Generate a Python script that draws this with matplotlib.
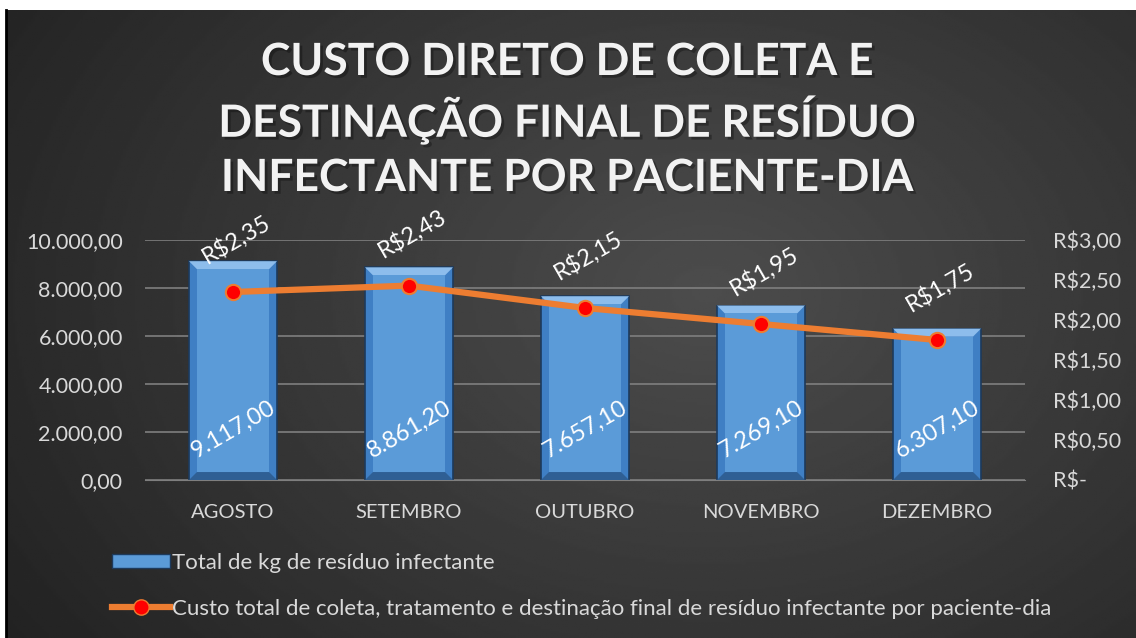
import numpy as np
import matplotlib
matplotlib.use("Agg")
import matplotlib.pyplot as plt
import matplotlib.patheffects as pe
from matplotlib.patches import Rectangle, Polygon
from matplotlib.lines import Line2D
from matplotlib.ticker import FixedLocator, FuncFormatter

meses = ["AGOSTO", "SETEMBRO", "OUTUBRO", "NOVEMBRO", "DEZEMBRO"]
kg_residuo = [9117.00, 8861.20, 7657.10, 7269.10, 6307.10]
custo_paciente_dia = [2.35, 2.43, 2.15, 1.95, 1.75]
titulo = ["CUSTO DIRETO DE COLETA E",
          "DESTINAÇÃO FINAL DE RESÍDUO",
          "INFECTANTE POR PACIENTE-DIA"]
leg_barra = "Total de kg de resíduo infectante"
leg_linha = ("Custo total de coleta, tratamento e destinação final de resíduo "
             "infectante por paciente-dia")

plt.rcParams["font.family"] = ["Lato", "DejaVu Sans"]

def br(v, dec=2):
    s = f"{v:,.{dec}f}"
    return s.replace(",", "X").replace(".", ",").replace("X", ".")

W, H = 1136, 638
fig = plt.figure(figsize=(W / 100, H / 100), dpi=100)
fig.patch.set_facecolor("white")

# dark radial background
bg = fig.add_axes([7 / W, 0, 1 - 7 / W, 1 - 10 / H])
yy, xx = np.mgrid[0:1:300j, 0:1:500j]
r = np.sqrt(((xx - 0.62) * 1.3) ** 2 + ((yy - 0.45)) ** 2)
bg.imshow(0.30 - 0.17 * np.clip(r, 0, 1), cmap="gray", vmin=0, vmax=1,
          aspect="auto", extent=[0, 1, 0, 1])
bg.axis("off")
fig.add_artist(Line2D([5.5 / W, 5.5 / W], [0, 1 - 10 / H], color="black",
                      lw=2, transform=fig.transFigure))

for i, linha in enumerate(titulo):
    t = fig.text(0.5, 1 - (62 + 58 * i) / H, linha, ha="center", va="center",
                 color="#f2f2f2", fontsize=32, fontweight="bold")
    t.set_path_effects([pe.SimplePatchShadow(offset=(2, -2), alpha=0.3,
                                             shadow_rgbFace="black"),
                        pe.Normal()])

ax = fig.add_axes([145 / W, 158 / H, 880 / W, 240 / H])
ax.set_facecolor("none")
x = np.arange(len(meses))
ax.set_xlim(-0.5, len(meses) - 0.5)
ax.set_ylim(0, 10000)
ax.yaxis.set_major_locator(FixedLocator(np.arange(0, 10001, 2000)))
ax.yaxis.set_major_formatter(FuncFormatter(lambda v, p: br(v)))
ax.set_xticks(x, meses)
ax.grid(axis="y", color="#7f7f7f", lw=1.2)
ax.set_axisbelow(True)
for s in ax.spines.values():
    s.set_visible(False)
ax.spines["bottom"].set_visible(True)
ax.spines["bottom"].set_color("#7f7f7f")
ax.tick_params(length=0, colors="#d9d9d9", labelsize=15.5)
ax.tick_params(axis="x", labelsize=14.5, pad=17)
ax.tick_params(axis="y", pad=16)

bw = 0.5
bx = 0.045
by = 330
ax.bar(x, kg_residuo, width=bw, color="#3f7fc4", edgecolor="#1d3a5c",
       lw=1.2, zorder=2)
for xi, h in zip(x, kg_residuo):
    l, rgt = xi - bw / 2, xi + bw / 2
    ax.add_patch(Polygon([[l, h], [rgt, h], [rgt - bx, h - by], [l + bx, h - by]],
                         closed=True, fc="#8dbdec", ec="none", zorder=3))
    ax.add_patch(Polygon([[l, 0], [rgt, 0], [rgt - bx, by], [l + bx, by]],
                         closed=True, fc="#2f5f94", ec="none", zorder=3))
    ax.add_patch(Rectangle((l + bx, by), bw - 2 * bx, h - 2 * by, fc="#5b9bd8",
                           ec="none", zorder=3))
    ax.text(xi, 2100, br(h), rotation=30, ha="center", va="center",
            color="white", fontsize=17, zorder=6)

ax2 = ax.twinx()
ax2.set_ylim(0, 3)
ax2.yaxis.set_major_locator(FixedLocator(np.arange(0, 3.01, 0.5)))
ax2.yaxis.set_major_formatter(FuncFormatter(
    lambda v, p: "R$-" if v == 0 else "R$" + br(v)))
for s in ax2.spines.values():
    s.set_visible(False)
ax2.tick_params(length=0, colors="#d9d9d9", labelsize=15.5, pad=20)
ax2.plot(x, custo_paciente_dia, color="#ed7d31", lw=4.5, marker="o", ms=11,
         mfc="#ff0000", mec="#ed7d31", mew=1.5, zorder=5)
for xi, v in zip(x, custo_paciente_dia):
    ax2.text(xi + 0.02, v + 0.66, "R$" + br(v), rotation=30, ha="center",
             va="center", color="white", fontsize=17)

h_bar = Rectangle((0, 0), 1, 1, fc="#5b9bd8", ec="#1d3a5c")
h_line = Line2D([], [], color="#ed7d31", lw=4.5, marker="o", ms=11,
                mfc="#ff0000", mec="#ed7d31")
fig.legend([h_bar, h_line], [leg_barra, leg_linha], loc="upper left",
           bbox_to_anchor=(112 / W, 1 - 553 / H), frameon=False,
           borderpad=0, borderaxespad=0,
           labelcolor="#d9d9d9", fontsize=16, handlelength=2.6,
           handletextpad=0.1, labelspacing=1.15, handleheight=0.55)

fig.savefig("out.png", dpi=100)
